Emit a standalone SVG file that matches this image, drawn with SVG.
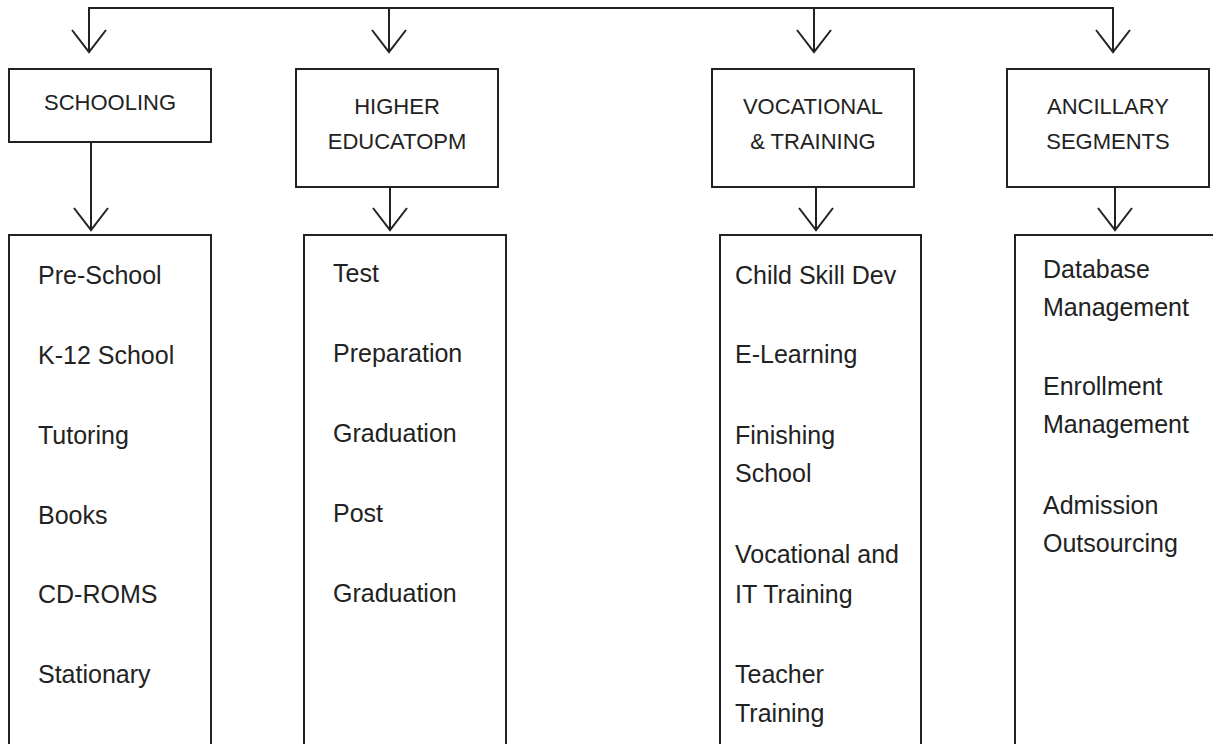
<svg xmlns="http://www.w3.org/2000/svg" width="1213" height="744" viewBox="0 0 1213 744">
<style>
.box{fill:#fff;stroke:#222;stroke-width:2}
.ln{fill:none;stroke:#222;stroke-width:2}
.hd{font-family:"Liberation Sans",Arial,sans-serif;font-size:22px;fill:#222;text-anchor:middle}
.tx{font-family:"Liberation Sans",Arial,sans-serif;font-size:25px;fill:#222}
</style>
<rect width="1213" height="744" fill="#fff"/>
<g id="connectors">
<polyline class="ln" points="89,52 89,8 1113,8 1113,52"/>
<line class="ln" x1="389" y1="8" x2="389" y2="52"/>
<line class="ln" x1="814" y1="8" x2="814" y2="52"/>
<polyline class="ln" points="72,30 89,52 106,30"/>
<polyline class="ln" points="372,30 389,52 406,30"/>
<polyline class="ln" points="797,30 814,52 831,30"/>
<polyline class="ln" points="1096,30 1113,52 1130,30"/>
<line class="ln" x1="91" y1="142" x2="91" y2="230"/>
<line class="ln" x1="390" y1="187" x2="390" y2="230"/>
<line class="ln" x1="816" y1="187" x2="816" y2="230"/>
<line class="ln" x1="1115" y1="187" x2="1115" y2="230"/>
<polyline class="ln" points="74,208 91,230 108,208"/>
<polyline class="ln" points="373,208 390,230 407,208"/>
<polyline class="ln" points="799,208 816,230 833,208"/>
<polyline class="ln" points="1098,208 1115,230 1132,208"/>
</g>
<g id="schooling">
<rect class="box" x="9" y="69" width="202" height="73"/>
<text class="hd" x="110" y="110">SCHOOLING</text>
</g>
<g id="higher-education">
<rect class="box" x="296" y="69" width="202" height="118"/>
<text class="hd" x="397" y="114">HIGHER</text>
<text class="hd" x="397" y="149">EDUCATOPM</text>
</g>
<g id="vocational">
<rect class="box" x="712" y="69" width="202" height="118"/>
<text class="hd" x="813" y="114">VOCATIONAL</text>
<text class="hd" x="813" y="149">&amp; TRAINING</text>
</g>
<g id="ancillary">
<rect class="box" x="1007" y="69" width="202" height="118"/>
<text class="hd" x="1108" y="114">ANCILLARY</text>
<text class="hd" x="1108" y="149">SEGMENTS</text>
</g>
<g id="schooling-list">
<rect class="box" x="9" y="235" width="202" height="520"/>
<text class="tx" x="38" y="284">Pre-School</text>
<text class="tx" x="38" y="364">K-12 School</text>
<text class="tx" x="38" y="444">Tutoring</text>
<text class="tx" x="38" y="524">Books</text>
<text class="tx" x="38" y="603">CD-ROMS</text>
<text class="tx" x="38" y="683">Stationary</text>
</g>
<g id="higher-list">
<rect class="box" x="304" y="235" width="202" height="520"/>
<text class="tx" x="333" y="282">Test</text>
<text class="tx" x="333" y="362">Preparation</text>
<text class="tx" x="333" y="442">Graduation</text>
<text class="tx" x="333" y="522">Post</text>
<text class="tx" x="333" y="602">Graduation</text>
</g>
<g id="vocational-list">
<rect class="box" x="720" y="235" width="201" height="520"/>
<text class="tx" x="735" y="284">Child Skill Dev</text>
<text class="tx" x="735" y="363">E-Learning</text>
<text class="tx" x="735" y="444">Finishing</text>
<text class="tx" x="735" y="482">School</text>
<text class="tx" x="735" y="563">Vocational and</text>
<text class="tx" x="735" y="603">IT Training</text>
<text class="tx" x="735" y="683">Teacher</text>
<text class="tx" x="735" y="722">Training</text>
</g>
<g id="ancillary-list">
<rect class="box" x="1015" y="235" width="220" height="520"/>
<text class="tx" x="1043" y="278">Database</text>
<text class="tx" x="1043" y="316">Management</text>
<text class="tx" x="1043" y="395">Enrollment</text>
<text class="tx" x="1043" y="433">Management</text>
<text class="tx" x="1043" y="514">Admission</text>
<text class="tx" x="1043" y="552">Outsourcing</text>
</g>
</svg>
